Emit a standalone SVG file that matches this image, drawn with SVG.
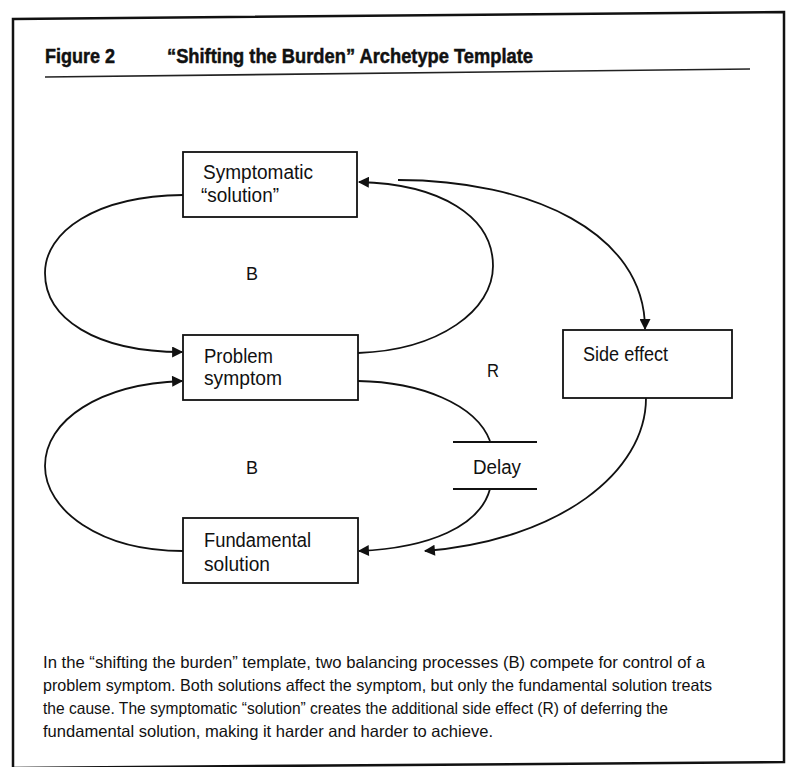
<svg xmlns="http://www.w3.org/2000/svg" width="787" height="767" viewBox="0 0 787 767">
  <style>
    .frame { fill: none; stroke: #111; stroke-width: 2.5; }
    .rule { stroke: #222; stroke-width: 1.6; }
    .box { fill: #fff; stroke: #111; stroke-width: 1.8; }
    .link { fill: none; stroke: #111; stroke-width: 1.8; }
    .delay { stroke: #111; stroke-width: 1.8; }
    text { font-family: "Liberation Sans", Arial, sans-serif; fill: #111; }
    .title { font-size: 21px; font-weight: bold; stroke: #111; stroke-width: 0.5; }
    .label { font-size: 19.5px; }
    .loop { font-size: 19px; }
    .caption { font-size: 16.5px; }
  </style>
  <defs>
    <marker id="arrow" viewBox="0 0 10 10" refX="9" refY="5" markerWidth="12" markerHeight="11" markerUnits="userSpaceOnUse" orient="auto">
      <path d="M0,0 L10,5 L0,10 Z" fill="#111"/>
    </marker>
  </defs>

  <rect width="787" height="767" fill="#fff"/>

  <!-- outer frame -->
  <polygon class="frame" points="13,19 784,12 784,762 13,768"/>

  <!-- heading -->
  <g id="heading">
    <text class="title" x="45" y="63" textLength="70" lengthAdjust="spacingAndGlyphs">Figure 2</text>
    <text class="title" x="167" y="63" textLength="366" lengthAdjust="spacingAndGlyphs">“Shifting the Burden” Archetype Template</text>
    <line class="rule" x1="45" y1="77" x2="750" y2="69"/>
  </g>

  <!-- connectors -->
  <g id="connectors">
    <!-- upper balancing loop -->
    <path class="link" d="M183,195 C95,196 45,232 45,273 C45,318 95,352 182,352" marker-end="url(#arrow)"/>
    <path class="link" d="M358,353 C440,350 493,310 493,266 C493,216 440,184 359,182" marker-end="url(#arrow)"/>
    <!-- side effect path -->
    <path class="link" d="M398,180 C530,180 645,232 645,329" marker-end="url(#arrow)"/>
    <path class="link" d="M646,398 C646,472 560,540 425,551" marker-end="url(#arrow)"/>
    <!-- fundamental loop through the delay -->
    <path class="link" d="M358,381 C420,382 476,404 490,441"/>
    <path class="link" d="M490,489 C480,526 430,548 359,551" marker-end="url(#arrow)"/>
    <path class="link" d="M183,551 C100,551 45,510 45,466 C45,420 100,384 182,381" marker-end="url(#arrow)"/>
  </g>

  <!-- delay marker -->
  <g id="delay">
    <line class="delay" x1="453" y1="442" x2="537" y2="442"/>
    <line class="delay" x1="453" y1="489" x2="537" y2="489"/>
    <text class="label" x="473" y="474" textLength="48" lengthAdjust="spacingAndGlyphs">Delay</text>
  </g>

  <g id="symptomatic-solution">
    <rect class="box" x="183" y="152" width="174" height="65"/>
    <text class="label" x="203" y="179" textLength="110" lengthAdjust="spacingAndGlyphs">Symptomatic</text>
    <text class="label" x="201" y="202" textLength="78" lengthAdjust="spacingAndGlyphs">“solution”</text>
  </g>

  <g id="problem-symptom">
    <rect class="box" x="183" y="335" width="175" height="65"/>
    <text class="label" x="204" y="363" textLength="69" lengthAdjust="spacingAndGlyphs">Problem</text>
    <text class="label" x="204" y="385" textLength="78" lengthAdjust="spacingAndGlyphs">symptom</text>
  </g>

  <g id="fundamental-solution">
    <rect class="box" x="183" y="518" width="175" height="65"/>
    <text class="label" x="204" y="547" textLength="107" lengthAdjust="spacingAndGlyphs">Fundamental</text>
    <text class="label" x="204" y="571" textLength="66" lengthAdjust="spacingAndGlyphs">solution</text>
  </g>

  <g id="side-effect">
    <rect class="box" x="563" y="330" width="169" height="68"/>
    <text class="label" x="583" y="361" textLength="85" lengthAdjust="spacingAndGlyphs">Side effect</text>
  </g>

  <!-- loop labels -->
  <g id="loop-labels">
    <text class="loop" x="246" y="280" textLength="12" lengthAdjust="spacingAndGlyphs">B</text>
    <text class="loop" x="246" y="474" textLength="12" lengthAdjust="spacingAndGlyphs">B</text>
    <text class="loop" x="487" y="377" textLength="12" lengthAdjust="spacingAndGlyphs">R</text>
  </g>

  <g id="caption">
    <text class="caption" x="43" y="668" textLength="662" lengthAdjust="spacingAndGlyphs">In the “shifting the burden” template, two balancing processes (B) compete for control of a</text>
    <text class="caption" x="43" y="691" textLength="669" lengthAdjust="spacingAndGlyphs">problem symptom. Both solutions affect the symptom, but only the fundamental solution treats</text>
    <text class="caption" x="43" y="714" textLength="625" lengthAdjust="spacingAndGlyphs">the cause. The symptomatic “solution” creates the additional side effect (R) of deferring the</text>
    <text class="caption" x="43" y="737" textLength="450" lengthAdjust="spacingAndGlyphs">fundamental solution, making it harder and harder to achieve.</text>
  </g>
</svg>
